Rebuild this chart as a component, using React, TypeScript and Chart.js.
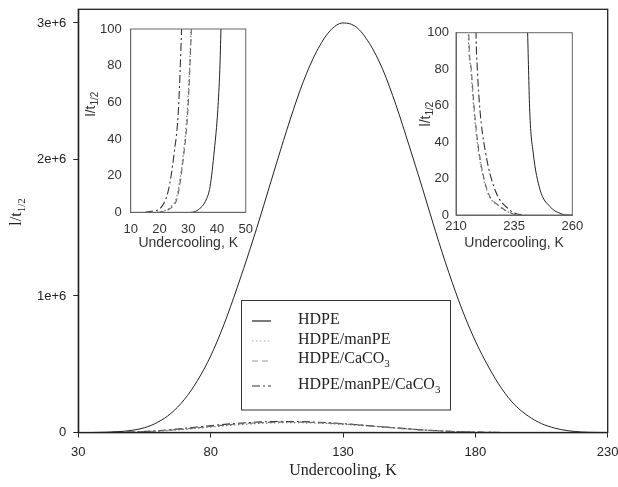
import React, { useEffect, useRef } from "react";
import { Chart, registerables } from "chart.js";
Chart.register(...registerables);

// ---------- main chart data ----------
const mainX = [30, 35, 40, 45, 50, 55, 60, 65, 70, 75, 80, 85, 90, 95, 100, 105, 110, 115, 120, 125, 130, 135, 140, 145, 150, 155, 160, 165, 170, 175, 180, 185, 190, 195, 200, 205, 210, 215, 220, 225, 230];
const hdpeMain = [0, 0, 0.002e6, 0.006e6, 0.015e6, 0.035e6, 0.075e6, 0.14e6, 0.24e6, 0.38e6, 0.56e6, 0.79e6, 1.06e6, 1.35e6, 1.66e6, 1.98e6, 2.29e6, 2.57e6, 2.79e6, 2.94e6, 3.0e6, 2.97e6, 2.85e6, 2.66e6, 2.4e6, 2.1e6, 1.79e6, 1.47e6, 1.17e6, 0.9e6, 0.67e6, 0.48e6, 0.32e6, 0.2e6, 0.12e6, 0.065e6, 0.032e6, 0.013e6, 0.004e6, 0.001e6, 0];
const humpX = [30, 40, 50, 60, 70, 80, 90, 100, 110, 120, 130, 140, 150, 160, 170, 180, 190];
const manPEMain = [0, 0, 0.002e6, 0.009e6, 0.022e6, 0.04e6, 0.057e6, 0.068e6, 0.072e6, 0.069e6, 0.06e6, 0.047e6, 0.032e6, 0.018e6, 0.008e6, 0.002e6, 0];
const caco3Main = [0, 0, 0.003e6, 0.011e6, 0.026e6, 0.045e6, 0.062e6, 0.073e6, 0.077e6, 0.073e6, 0.063e6, 0.049e6, 0.033e6, 0.019e6, 0.009e6, 0.003e6, 0];
const manPECaco3Main = [0, 0, 0.004e6, 0.013e6, 0.03e6, 0.05e6, 0.067e6, 0.078e6, 0.081e6, 0.076e6, 0.065e6, 0.05e6, 0.034e6, 0.019e6, 0.009e6, 0.003e6, 0];
const mainXTicks = [30, 80, 130, 180, 230];
const mainYTicks = [0, 1e6, 2e6, 3e6];
const mainYLabels = ["0", "1e+6", "2e+6", "3e+6"];

// ---------- left inset data ----------
const lHdpeX = [31, 32, 34, 36, 37.6, 39.1, 40.3, 41, 41.4, 41.6];
const lHdpeY = [0, 0.2, 2, 6, 14, 34, 56, 78, 100, 110];
const lManPEX = [19, 20, 22.5, 24, 26, 28.3, 29.7, 31, 31.2];
const lManPEY = [0, 0.2, 1.3, 3, 8.5, 32, 56, 100, 110];
const lCaco3X = [19.4, 20.4, 22.9, 24.4, 26.3, 28.5, 29.9, 31.1, 31.3];
const lCaco3Y = [0, 0.2, 1.3, 3, 8.5, 32, 56, 100, 110];
const lMixX = [15, 16.7, 18, 20.2, 23.1, 25.1, 26.6, 27.7, 27.9];
const lMixY = [0, 0.4, 0.8, 2, 12, 32, 56, 100, 110];
const lXTicks = [10, 20, 30, 40, 50];

// ---------- right inset data ----------
const rHdpeX = [240.6, 240.8, 241.7, 243.2, 246.1, 250.4, 254.7, 258.5, 260];
const rHdpeY = [110, 100, 57, 34, 14, 4.6, 0.9, 0, 0];
const rManPEX = [215.2, 215.3, 216.4, 217.7, 219.6, 223.2, 228.9, 234.6, 237];
const rManPEY = [110, 100, 79.5, 57.6, 35.6, 13.7, 4.6, 0.5, 0];
const rCaco3X = [215.4, 215.5, 216.6, 217.9, 219.8, 223.4, 229.1, 234.8, 237.2];
const rCaco3Y = [110, 100, 79.5, 57.6, 35.6, 13.7, 4.6, 0.5, 0];
const rMixX = [218.5, 218.6, 219.2, 220.3, 222.5, 226.8, 233.2, 237.5, 240];
const rMixY = [110, 100, 79.5, 57.6, 35.6, 13.7, 2.7, 0.2, 0];
const rXTicks = [210, 235, 260];
const insetYTicks = [0, 20, 40, 60, 80, 100];

// ---------- legend ----------
const legendLabels: [string, string][] = [
  ["HDPE", ""],
  ["HDPE/manPE", ""],
  ["HDPE/CaCO", "3"],
  ["HDPE/manPE/CaCO", "3"],
];

const SERIF = '"Liberation Serif", "Times New Roman", serif';
const SANS = '"Liberation Sans", Arial, sans-serif';

const styles = [
  { color: "#222", dash: [] as number[], width: 1 },
  { color: "#777", dash: [1.5, 2.5], width: 1.2 },
  { color: "#666", dash: [6, 4], width: 1.1 },
  { color: "#333", dash: [8, 3, 2, 3], width: 1.1 },
];

function pts(xs: number[], ys: number[]) {
  return xs.map((x, i) => ({ x, y: ys[i] }));
}

function ds(label: string, xs: number[], ys: number[], si: number) {
  const s = styles[si];
  return {
    label,
    data: pts(xs, ys),
    borderColor: s.color,
    borderWidth: s.width,
    borderDash: s.dash,
    pointRadius: 0,
    fill: false,
    cubicInterpolationMode: "monotone" as const,
  };
}

function drawParts(ctx: CanvasRenderingContext2D, main: string, sub: string, x: number, y: number, size: number, family: string, align: "left" | "center") {
  ctx.font = `${size}px ${family}`;
  const w1 = ctx.measureText(main).width;
  const subSize = Math.round(size * 0.68);
  ctx.font = `${subSize}px ${family}`;
  const w2 = sub ? ctx.measureText(sub).width : 0;
  const total = w1 + w2;
  const x0 = align === "center" ? x - total / 2 : x;
  ctx.textAlign = "left";
  ctx.textBaseline = "middle";
  ctx.font = `${size}px ${family}`;
  ctx.fillText(main, x0, y);
  if (sub) {
    ctx.font = `${subSize}px ${family}`;
    ctx.fillText(sub, x0 + w1, y + size * 0.32);
  }
}

function drawRotated(ctx: CanvasRenderingContext2D, main: string, sub: string, x: number, y: number, size: number, family: string, color: string) {
  ctx.save();
  ctx.translate(x, y);
  ctx.rotate(-Math.PI / 2);
  ctx.fillStyle = color;
  drawParts(ctx, main, sub, 0, 0, size, family, "center");
  ctx.restore();
}

function fixedTicks(values: number[]) {
  return (scale: any) => {
    scale.ticks = values.map((v) => ({ value: v }));
  };
}

function fitX(h: number) {
  return (s: any) => {
    s.height = h;
    s.paddingLeft = 0;
    s.paddingRight = 0;
    s.paddingTop = 0;
    s.paddingBottom = 0;
  };
}

function fitY(w: number) {
  return (s: any) => {
    s.width = w;
    s.paddingLeft = 0;
    s.paddingRight = 0;
    s.paddingTop = 0;
    s.paddingBottom = 0;
  };
}

function MainChart() {
  const ref = useRef<HTMLCanvasElement>(null);
  useEffect(() => {
    const boxPlugin = {
      id: "mainDeco",
      afterDraw(chart: any) {
        const ctx = chart.ctx as CanvasRenderingContext2D;
        const a = chart.chartArea;
        ctx.save();
        ctx.strokeStyle = "#222";
        ctx.lineWidth = 1.3;
        ctx.strokeRect(a.left, a.top, a.right - a.left, a.bottom - a.top);
        // titles
        ctx.fillStyle = "#222";
        drawParts(ctx, "Undercooling, K", "", (a.left + a.right) / 2, 471, 16, SERIF, "center");
        drawRotated(ctx, "l/t", "1/2", 17, 212, 16, SERIF, "#222");
        // legend
        const lx = 241.5, ly = 300.5, lw = 209, lh = 109.5;
        ctx.fillStyle = "#fff";
        ctx.fillRect(lx, ly, lw, lh);
        ctx.strokeStyle = "#333";
        ctx.lineWidth = 1;
        ctx.strokeRect(lx, ly, lw, lh);
        const rowY = [321, 341, 361, 386];
        const textY = [320, 340, 359, 385];
        legendLabels.forEach((lab, i) => {
          const s = styles[i];
          ctx.beginPath();
          ctx.setLineDash(s.dash);
          ctx.strokeStyle = i === 1 ? "#aaa" : i === 2 ? "#999" : s.color;
          ctx.lineWidth = 1.2;
          ctx.moveTo(252, rowY[i]);
          ctx.lineTo(271, rowY[i]);
          ctx.stroke();
          ctx.setLineDash([]);
          ctx.fillStyle = "#222";
          drawParts(ctx, lab[0], lab[1], 298, textY[i], 16, SERIF, "left");
        });
        ctx.restore();
      },
    };
    const chart = new Chart(ref.current!, {
      type: "line",
      data: {
        datasets: [
          ds("HDPE", mainX, hdpeMain, 0),
          ds("HDPE/manPE", humpX, manPEMain, 1),
          ds("HDPE/CaCO3", humpX, caco3Main, 2),
          ds("HDPE/manPE/CaCO3", humpX, manPECaco3Main, 3),
        ],
      },
      options: {
        animation: false,
        responsive: false,
        layout: { padding: { top: 9.3, right: 10.3, left: 0, bottom: 0 } },
        plugins: { legend: { display: false }, tooltip: { enabled: false } },
        scales: {
          x: {
            type: "linear",
            min: 30,
            max: 230,
            afterBuildTicks: fixedTicks(mainXTicks),
            afterFit: fitX(54.5),
            grid: { display: true, drawOnChartArea: false, drawTicks: true, tickLength: 5, color: "#222", lineWidth: 1 },
            border: { display: true, color: "#222", width: 1.3 },
            ticks: { font: { family: SANS, size: 13 }, color: "#222", padding: 7, maxRotation: 0, autoSkip: false },
          },
          y: {
            type: "linear",
            min: 0,
            max: 3.1e6,
            afterBuildTicks: fixedTicks(mainYTicks),
            afterFit: fitY(78.3),
            grid: { display: true, drawOnChartArea: false, drawTicks: true, tickLength: 5, color: "#222", lineWidth: 1 },
            border: { display: true, color: "#222", width: 1.3 },
            ticks: {
              font: { family: SANS, size: 13 },
              color: "#222",
              padding: 7,
              autoSkip: false,
              callback: (v: any) => {
                const i = mainYTicks.indexOf(Number(v));
                return i >= 0 ? mainYLabels[i] : "";
              },
            },
          },
        },
      },
      plugins: [boxPlugin],
    });
    return () => chart.destroy();
  }, []);
  return <canvas ref={ref} width={618} height={487} style={{ position: "absolute", left: 0, top: 0, width: 618, height: 487 }} />;
}

interface InsetProps {
  left: number;
  top: number;
  width: number;
  height: number;
  padTop: number;
  padRight: number;
  yWidth: number;
  xHeight: number;
  xMin: number;
  xMax: number;
  xTicks: number[];
  xPad: number;
  yPad: number;
  sets: any[];
  titleX: number;
  titleY: number;
  titleSize: number;
  xTitleY: number;
}

function Inset(p: InsetProps) {
  const ref = useRef<HTMLCanvasElement>(null);
  useEffect(() => {
    const deco = {
      id: "insetDeco",
      afterDraw(chart: any) {
        const ctx = chart.ctx as CanvasRenderingContext2D;
        const a = chart.chartArea;
        ctx.save();
        ctx.strokeStyle = "#666";
        ctx.lineWidth = 1;
        ctx.strokeRect(a.left, a.top, a.right - a.left, a.bottom - a.top);
        ctx.fillStyle = "#333";
        drawParts(ctx, "Undercooling, K", "", (a.left + a.right) / 2, p.xTitleY, 14, SANS, "center");
        drawRotated(ctx, "l/t", "1/2", p.titleX, p.titleY, p.titleSize, SANS, "#333");
        ctx.restore();
      },
    };
    const chart = new Chart(ref.current!, {
      type: "line",
      data: { datasets: p.sets },
      options: {
        animation: false,
        responsive: false,
        layout: { padding: { top: p.padTop, right: p.padRight, left: 0, bottom: 0 } },
        plugins: { legend: { display: false }, tooltip: { enabled: false } },
        scales: {
          x: {
            type: "linear",
            min: p.xMin,
            max: p.xMax,
            afterBuildTicks: fixedTicks(p.xTicks),
            afterFit: fitX(p.xHeight),
            grid: { display: false, drawTicks: false },
            border: { display: true, color: "#666", width: 1 },
            ticks: { font: { family: SANS, size: 13 }, color: "#333", padding: p.xPad, maxRotation: 0, autoSkip: false },
          },
          y: {
            type: "linear",
            min: 0,
            max: 100,
            afterBuildTicks: fixedTicks(insetYTicks),
            afterFit: fitY(p.yWidth),
            grid: { display: false, drawTicks: false },
            border: { display: true, color: "#666", width: 1 },
            ticks: { font: { family: SANS, size: 13 }, color: "#333", padding: p.yPad, autoSkip: false },
          },
        },
      },
      plugins: [deco],
    });
    return () => chart.destroy();
  }, []);
  return (
    <canvas
      ref={ref}
      width={p.width}
      height={p.height}
      style={{ position: "absolute", left: p.left, top: p.top, width: p.width, height: p.height }}
    />
  );
}

export default function App() {
  const leftSets = [
    ds("HDPE", lHdpeX, lHdpeY, 0),
    ds("HDPE/manPE", lManPEX, lManPEY, 1),
    ds("HDPE/CaCO3", lCaco3X, lCaco3Y, 2),
    ds("HDPE/manPE/CaCO3", lMixX, lMixY, 3),
  ];
  const rightSets = [
    ds("HDPE", rHdpeX, rHdpeY, 0),
    ds("HDPE/manPE", rManPEX, rManPEY, 1),
    ds("HDPE/CaCO3", rCaco3X, rCaco3Y, 2),
    ds("HDPE/manPE/CaCO3", rMixX, rMixY, 3),
  ];
  return (
    <div style={{ position: "absolute", left: 0, top: 0, width: 618, height: 487, background: "#fff", overflow: "hidden" }}>
      <MainChart />
      <Inset
        left={85} top={14} width={175} height={240}
        padTop={15} padRight={14.3} yWidth={45.7} xHeight={41.7}
        xMin={10} xMax={50} xTicks={lXTicks} xPad={9} yPad={9}
        sets={leftSets} titleX={6} titleY={90} titleSize={14} xTitleY={229}
      />
      <Inset
        left={415} top={14} width={175} height={240}
        padTop={18.7} padRight={17.7} yWidth={41} xHeight={39}
        xMin={210} xMax={260} xTicks={rXTicks} xPad={4} yPad={7}
        sets={rightSets} titleX={11} titleY={100} titleSize={14} xTitleY={229}
      />
    </div>
  );
}
